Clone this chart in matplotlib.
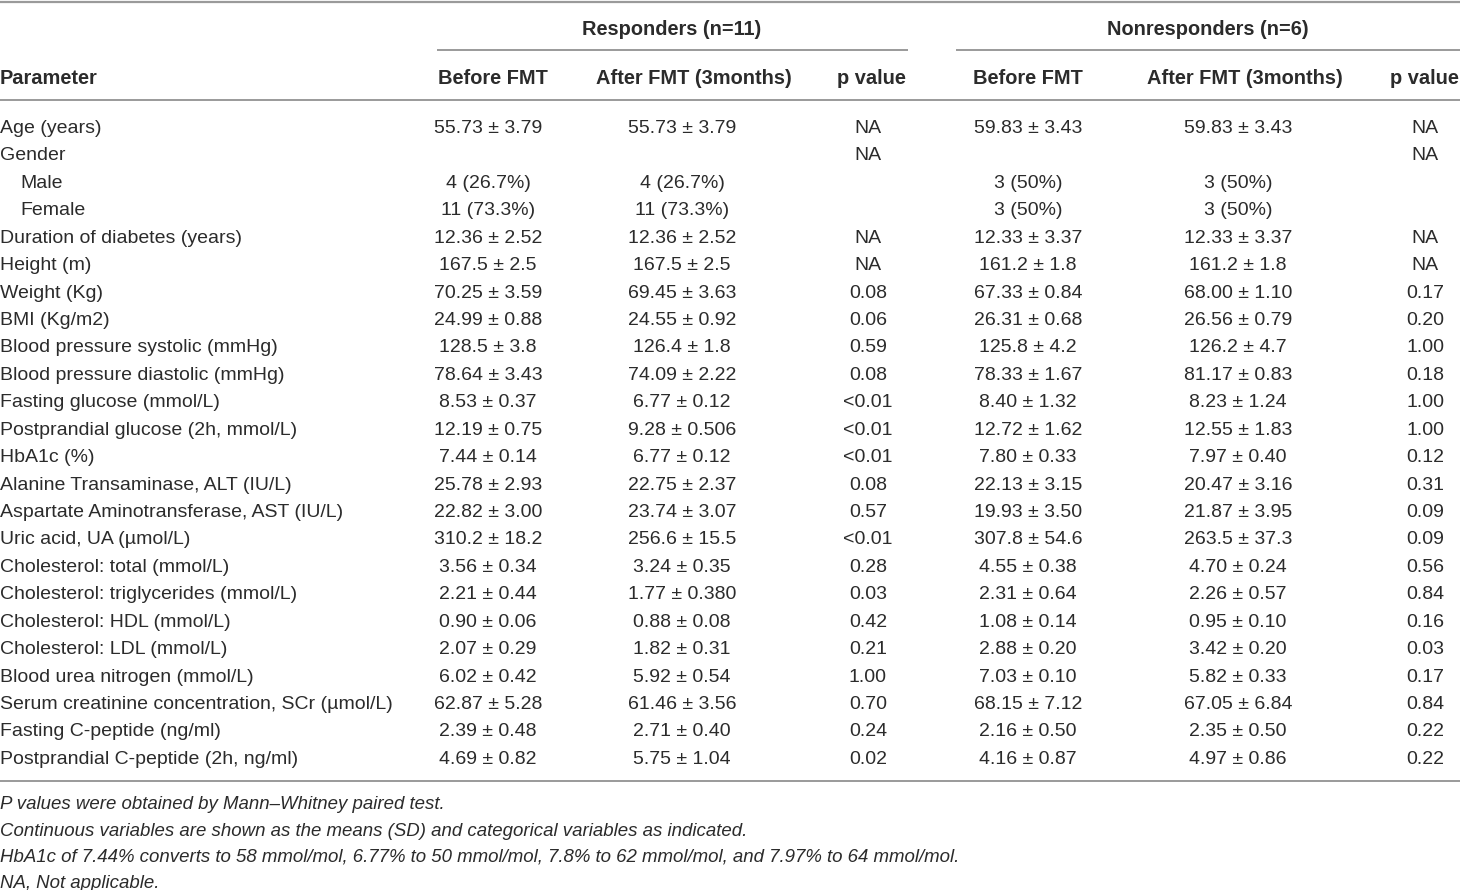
import matplotlib
matplotlib.use("Agg")
import matplotlib.pyplot as plt
from matplotlib import font_manager

names = {f.name for f in font_manager.fontManager.ttflist}
FONT = "Liberation Sans Narrow" if "Liberation Sans Narrow" in names else "Liberation Sans"
plt.rcParams['font.family'] = [FONT, 'DejaVu Sans']

groups = ["Responders (n=11)", "Nonresponders (n=6)"]
col_heads = ["Before FMT", "After FMT (3months)", "p value"]

params = ["Age (years)", "Gender", "Male", "Female", "Duration of diabetes (years)",
          "Height (m)", "Weight (Kg)", "BMI (Kg/m2)", "Blood pressure systolic (mmHg)",
          "Blood pressure diastolic (mmHg)", "Fasting glucose (mmol/L)",
          "Postprandial glucose (2h, mmol/L)", "HbA1c (%)",
          "Alanine Transaminase, ALT (IU/L)", "Aspartate Aminotransferase, AST (IU/L)",
          "Uric acid, UA (µmol/L)", "Cholesterol: total (mmol/L)",
          "Cholesterol: triglycerides (mmol/L)", "Cholesterol: HDL (mmol/L)",
          "Cholesterol: LDL (mmol/L)", "Blood urea nitrogen (mmol/L)",
          "Serum creatinine concentration, SCr (µmol/L)", "Fasting C-peptide (ng/ml)",
          "Postprandial C-peptide (2h, ng/ml)"]
indented = ["Male", "Female"]

resp_before = ["55.73 ± 3.79", "", "4 (26.7%)", "11 (73.3%)", "12.36 ± 2.52", "167.5 ± 2.5",
               "70.25 ± 3.59", "24.99 ± 0.88", "128.5 ± 3.8", "78.64 ± 3.43", "8.53 ± 0.37",
               "12.19 ± 0.75", "7.44 ± 0.14", "25.78 ± 2.93", "22.82 ± 3.00", "310.2 ± 18.2",
               "3.56 ± 0.34", "2.21 ± 0.44", "0.90 ± 0.06", "2.07 ± 0.29", "6.02 ± 0.42",
               "62.87 ± 5.28", "2.39 ± 0.48", "4.69 ± 0.82"]
resp_after = ["55.73 ± 3.79", "", "4 (26.7%)", "11 (73.3%)", "12.36 ± 2.52", "167.5 ± 2.5",
              "69.45 ± 3.63", "24.55 ± 0.92", "126.4 ± 1.8", "74.09 ± 2.22", "6.77 ± 0.12",
              "9.28 ± 0.506", "6.77 ± 0.12", "22.75 ± 2.37", "23.74 ± 3.07", "256.6 ± 15.5",
              "3.24 ± 0.35", "1.77 ± 0.380", "0.88 ± 0.08", "1.82 ± 0.31", "5.92 ± 0.54",
              "61.46 ± 3.56", "2.71 ± 0.40", "5.75 ± 1.04"]
resp_p = ["NA", "NA", "", "", "NA", "NA", "0.08", "0.06", "0.59", "0.08", "<0.01", "<0.01",
          "<0.01", "0.08", "0.57", "<0.01", "0.28", "0.03", "0.42", "0.21", "1.00", "0.70",
          "0.24", "0.02"]
non_before = ["59.83 ± 3.43", "", "3 (50%)", "3 (50%)", "12.33 ± 3.37", "161.2 ± 1.8",
              "67.33 ± 0.84", "26.31 ± 0.68", "125.8 ± 4.2", "78.33 ± 1.67", "8.40 ± 1.32",
              "12.72 ± 1.62", "7.80 ± 0.33", "22.13 ± 3.15", "19.93 ± 3.50", "307.8 ± 54.6",
              "4.55 ± 0.38", "2.31 ± 0.64", "1.08 ± 0.14", "2.88 ± 0.20", "7.03 ± 0.10",
              "68.15 ± 7.12", "2.16 ± 0.50", "4.16 ± 0.87"]
non_after = ["59.83 ± 3.43", "", "3 (50%)", "3 (50%)", "12.33 ± 3.37", "161.2 ± 1.8",
             "68.00 ± 1.10", "26.56 ± 0.79", "126.2 ± 4.7", "81.17 ± 0.83", "8.23 ± 1.24",
             "12.55 ± 1.83", "7.97 ± 0.40", "20.47 ± 3.16", "21.87 ± 3.95", "263.5 ± 37.3",
             "4.70 ± 0.24", "2.26 ± 0.57", "0.95 ± 0.10", "3.42 ± 0.20", "5.82 ± 0.33",
             "67.05 ± 6.84", "2.35 ± 0.50", "4.97 ± 0.86"]
non_p = ["NA", "NA", "", "", "NA", "NA", "0.17", "0.20", "1.00", "0.18", "1.00", "1.00",
         "0.12", "0.31", "0.09", "0.09", "0.56", "0.84", "0.16", "0.03", "0.17", "0.84",
         "0.22", "0.22"]

notes = ["P values were obtained by Mann–Whitney paired test.",
         "Continuous variables are shown as the means (SD) and categorical variables as indicated.",
         "HbA1c of 7.44% converts to 58 mmol/mol, 6.77% to 50 mmol/mol, 7.8% to 62 mmol/mol, and 7.97% to 64 mmol/mol.",
         "NA, Not applicable."]

W, H = 1460, 890
fig = plt.figure(figsize=(W / 100, H / 100), dpi=100)
ax = fig.add_axes([0, 0, 1, 1])
ax.set_xlim(0, W)
ax.set_ylim(H, 0)
ax.axis("off")

txt = "#2b2b2b"
line_c = "#9a9a9a"
fs = 14
fs_bold = 14.4
off = 2.5  # small downward nudge so glyphs sit on the row centre

# rules
ax.hlines(2, 0, W, color=line_c, lw=1.6)
ax.hlines(50, 437, 908, color=line_c, lw=1.4)
ax.hlines(50, 956, W, color=line_c, lw=1.4)
ax.hlines(100, 0, W, color=line_c, lw=1.4)
ax.hlines(781, 0, W, color=line_c, lw=1.4)

# header
ax.text(672, 27 + off, groups[0], ha="center", va="center", fontsize=fs_bold, fontweight="bold", color=txt)
ax.text(1208, 27 + off, groups[1], ha="center", va="center", fontsize=fs_bold, fontweight="bold", color=txt)
ax.text(0, 76 + off, "Parameter", ha="left", va="center", fontsize=fs_bold, fontweight="bold", color=txt)
head_x = [493, 694, 871, 1028, 1245, 1424]
for hx, h in zip(head_x, col_heads * 2):
    ax.text(hx, 76 + off, h, ha="center", va="center", fontsize=fs_bold, fontweight="bold", color=txt)

# body
y0, dy = 126, 27.43
val_x = [488, 682, 868, 1028, 1238, 1425]
cols = [resp_before, resp_after, resp_p, non_before, non_after, non_p]
for i, p in enumerate(params):
    y = y0 + i * dy + off
    ax.text(20 if p in indented else 0, y, p, ha="left", va="center", fontsize=fs, color=txt)
    for cx, col in zip(val_x, cols):
        if col[i]:
            ax.text(cx, y, col[i], ha="center", va="center", fontsize=fs, color=txt)

# footnotes
for j, n in enumerate(notes):
    ax.text(0, 802 + j * 26.5 + off, n, ha="left", va="center", fontsize=13.4, style="italic", color=txt)

fig.savefig("out.png", dpi=100)
